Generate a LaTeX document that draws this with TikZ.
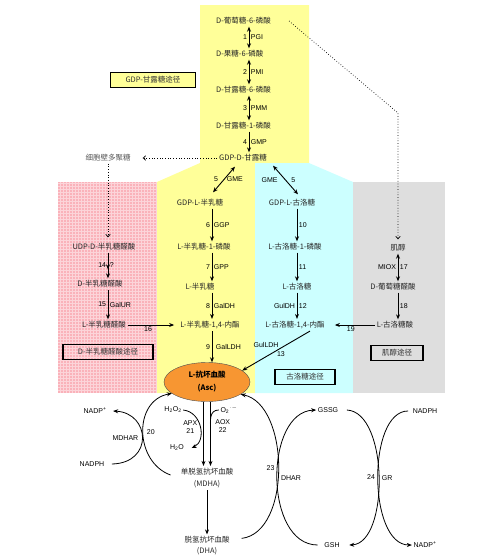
\documentclass[tikz,border=0pt]{standalone}
\usepackage{fontspec}
\setmainfont{Liberation Sans}
\newfontfamily\cjk{Noto Sans CJK SC}
\usetikzlibrary{arrows.meta,shapes.geometric}
\definecolor{manYellow}{RGB}{255,255,153}
\definecolor{gulCyan}{RGB}{204,255,255}
\definecolor{galPink}{RGB}{250,178,186}
\definecolor{inoGray}{RGB}{222,222,222}
\definecolor{ascOrange}{RGB}{247,150,50}

\begin{document}
\begin{tikzpicture}[x=1pt, y=-1pt,
    met/.style={font=\cjk\fontsize{7.5}{9}\selectfont, text=black!85, inner sep=2pt, align=center},
    lbl/.style={font=\fontsize{7}{8.5}\selectfont, inner sep=1.5pt, align=center},
    route/.style={rectangle, draw, line width=1.2pt, font=\cjk\fontsize{7.5}{9}\selectfont,
                  text=black!80, minimum height=15pt, inner sep=0pt},
    arr/.style={-{Stealth[length=5pt,width=4pt]}, line width=0.9pt},
    darr/.style={{Stealth[length=5pt,width=4pt]}-{Stealth[length=5pt,width=4pt]}, line width=0.9pt},
    marr/.style={-{Stealth[length=5pt,width=4pt,sep=4pt]Stealth[length=5pt,width=4pt]}, line width=0.9pt},
    dotarr/.style={-{Straight Barb[length=2.5pt,width=4.5pt]}, dotted, line width=0.7pt},
    cyc/.style={-{Stealth[length=5pt,width=4pt]}, line width=0.8pt}
  ]
  \useasboundingbox (0,0) rectangle (500,560);

  % coloured pathway areas
  \fill[manYellow] (200,5) -- (309,5) -- (309,163) -- (255,163) -- (255,393)
    -- (157,393) -- (157,182) -- (200,163) -- cycle;
  \fill[gulCyan] (255,163) -- (309,163) -- (353,182) -- (353,393) -- (255,393) -- cycle;
  \fill[galPink] (58,182) rectangle (157,393);
  \draw[white, opacity=0.45, line width=0.6pt, step=3pt] (58,393) grid (157,182);
  \fill[inoGray] (353,182) rectangle (445,393);

  % GDP-mannose pathway
  \coordinate (axM) at (249,0);
  \node[met, anchor=west] (g6p)    at (214,21)  {D-葡萄糖-6-磷酸};
  \node[met, anchor=west] (f6p)    at (214,54)  {D-果糖-6-磷酸};
  \node[met, anchor=west] (m6p)    at (214,90)  {D-甘露糖-6-磷酸};
  \node[met, anchor=west] (m1p)    at (214,126) {D-甘露糖-1-磷酸};
  \node[met, anchor=west] (gdpman) at (217,158) {GDP-D-甘露糖};
  \node[route, fill=manYellow, minimum width=85pt] (manroute) at (153,80) {GDP-甘露糖途径};
  \node[met, text=black!65] (wallpoly) at (108,158) {细胞壁多聚糖};

  % L-galactose pathway
  \coordinate (axG) at (212,0);
  \node[met] (gdpgal) at (200,203) {GDP-L-半乳糖};
  \node[met] (gal1p)  at (204,247) {L-半乳糖-1-磷酸};
  \node[met] (lgal)   at (200,287) {L-半乳糖};
  \node[met] (galL)   at (210,325) {L-半乳糖-1,4-内酯};

  % D-galacturonate pathway
  \coordinate (axU) at (108,0);
  \node[met] (udpgalur) at (104,247) {UDP-D-半乳糖醛酸};
  \node[met] (dgalur)   at (100,284) {D-半乳糖醛酸};
  \node[met] (lgalur)   at (104,325) {L-半乳糖醛酸};
  \node[route, minimum width=90pt] (galroute) at (108,352) {D-半乳糖醛酸途径};

  % L-gulose pathway
  \coordinate (axL) at (297,0);
  \node[met] (gdpgul) at (292,203) {GDP-L-古洛糖};
  \node[met] (gul1p)  at (295,247) {L-古洛糖-1-磷酸};
  \node[met] (lgul)   at (297,287) {L-古洛糖};
  \node[met] (gulL)   at (295,325) {L-古洛糖-1,4-内酯};
  \node[route, fill=gulCyan, minimum width=60pt] (gulroute) at (305,377) {古洛糖途径};

  % myo-inositol pathway
  \coordinate (axI) at (398,0);
  \coordinate (bendI) at (398,113);
  \node[met] (inos)   at (398,248) {肌醇};
  \node[met] (dglcur) at (393,287) {D-葡萄糖醛酸};
  \node[met] (lgulon) at (395,325) {L-古洛糖酸};
  \node[route, fill=inoGray, minimum width=52pt] (inoroute) at (397,353) {肌醇途径};

  % ascorbate and its recycling
  \node[ellipse, draw=black!70, fill=ascOrange, minimum width=86pt, minimum height=39pt,
        font=\cjk\bfseries\fontsize{7.5}{9}\selectfont, align=center, inner sep=0pt]
        (asc) at (207,382) {L-抗坏血酸\\[4pt](Asc)};
  \node[lbl] (h2o2)   at (173,410) {H\textsubscript{2}O\textsubscript{2}};
  \node[lbl] (o2)     at (229,410) {O\textsubscript{2}\textsuperscript{$\cdot-$}};
  \node[lbl] (h2o)    at (177,448) {H\textsubscript{2}O};
  \node[met] (mdha)   at (207,478) {单脱氢抗坏血酸\\[3pt](MDHA)};
  \node[met] (dha)    at (207,546) {脱氢抗坏血酸\\[2pt](DHA)};
  \node[lbl] (nadpL)  at (95,411)  {NADP\textsuperscript{+}};
  \node[lbl] (nadphL) at (92,464)  {NADPH};
  \node[lbl] (gssg)   at (328,410) {GSSG};
  \node[lbl] (gsh)    at (332,545) {GSH};
  \node[lbl] (nadphR) at (425,411) {NADPH};
  \node[lbl] (nadpR)  at (425,545) {NADP\textsuperscript{+}};

  % mannose steps
  \draw[darr] (g6p.south -| axM) -- node[lbl,left]{1} node[lbl,right]{PGI} (f6p.north -| axM);
  \draw[darr] (f6p.south -| axM) -- node[lbl,left]{2} node[lbl,right]{PMI} (m6p.north -| axM);
  \draw[darr] (m6p.south -| axM) -- node[lbl,left]{3} node[lbl,right]{PMM} (m1p.north -| axM);
  \draw[arr]  (m1p.south -| axM) -- node[lbl,left]{4} node[lbl,right]{GMP} (gdpman.north -| axM);
  \draw[dotarr, shorten >=10pt] (gdpman.west) -- (wallpoly.east);
  \draw[dotarr, shorten >=4pt] (wallpoly.south) -- (udpgalur.north -| wallpoly.south);
  \draw[dotarr, shorten >=3pt] ([xshift=16pt]g6p.east) -- (bendI) -- (inos.north);

  % galactose steps
  \draw[darr] ([xshift=18pt,yshift=-3pt]gdpman.south west) -- node[lbl,left=4pt]{5} node[lbl,right=1pt]{GME} ([xshift=13pt,yshift=5pt]gdpgal.north);
  \draw[arr] (gdpgal.south -| axG) -- node[lbl,left]{6} node[lbl,right]{GGP} (gal1p.north -| axG);
  \draw[arr] (gal1p.south -| axG) -- node[lbl,left]{7} node[lbl,right]{GPP} (lgal.north -| axG);
  \draw[arr] (lgal.south -| axG) -- node[lbl,left]{8} node[lbl,right]{GalDH} (galL.north -| axG);
  \draw[arr] (galL.south -| axG) -- node[lbl,left]{9} node[lbl,right=2pt]{GalLDH} (asc.north -| axG);

  % galacturonate steps
  \draw[marr] (udpgalur.south -| axU) -- node[lbl,left]{14} node[lbl,right]{?} (dgalur.north -| axU);
  \draw[arr] (dgalur.south -| axU) -- node[lbl,left]{15} node[lbl,right]{GalUR} (lgalur.north -| axU);
  \draw[arr, shorten >=4pt] (lgalur.east) -- node[lbl,pos=0.4,below]{16} (galL.west);

  % gulose steps
  \draw[darr] ([xshift=56pt,yshift=-2pt]gdpman.south west) -- node[lbl,left=6pt]{GME} node[lbl,right=4pt]{5} ([xshift=6pt,yshift=3pt]gdpgul.north);
  \draw[arr] (gdpgul.south -| axL) -- node[lbl,right]{10} (gul1p.north -| axL);
  \draw[arr] (gul1p.south -| axL) -- node[lbl,right]{11} (lgul.north -| axL);
  \draw[arr] (lgul.south -| axL) -- node[lbl,left]{GulDH} node[lbl,right]{12} (gulL.north -| axL);
  \draw[arr] ([xshift=15pt]gulL.south) -- node[lbl,pos=0.45,above left=-1pt]{GulLDH} node[lbl,pos=0.5,below right=-1pt]{13} (asc.18);

  % inositol steps
  \draw[darr] (inos.south -| axI) -- node[lbl,left]{MIOX} node[lbl,right]{17} (dglcur.north -| axI);
  \draw[arr] (dglcur.south -| axI) -- node[lbl,right]{18} (lgulon.north -| axI);
  \draw[arr, shorten >=8pt] (lgulon.west) -- node[lbl,below]{19} (gulL.east);

  % oxidation of ascorbate
  \draw[arr] ([xshift=-3.5pt]asc.south) -- ([xshift=-3.5pt]mdha.north);
  \draw[arr] ([xshift=3.5pt]asc.south) -- coordinate[pos=0.44] (aoxjoin) ([xshift=3.5pt]mdha.north);
  \draw[arr] (mdha.south) -- (dha.north);
  \draw[cyc] (h2o2.east) .. controls +(19,2) and +(15,-7) .. node[lbl,pos=0.5,left=1pt]{APX\\21} ([xshift=6pt]h2o.east);
  \draw[line width=0.8pt] (o2.west) .. controls +(-10,0) and +(0,-9) .. node[lbl,pos=0.85,right=3pt]{AOX\\22} (aoxjoin);

  % recycling loops
  \draw[cyc] ([xshift=-8pt,yshift=3pt]mdha.west) .. controls +(-36,-13) and +(-39,7) .. node[lbl,pos=0.5,right=2pt]{20} (asc.198);
  \draw[cyc] ([xshift=6pt]nadphL.east) .. controls +(42,-1) and +(37,2) .. node[lbl,pos=0.5,left=2pt]{MDHAR} ([xshift=5pt]nadpL.east);
  \draw[cyc] ([xshift=10pt,yshift=-4pt]dha.north east) .. controls +(50,-6) and +(49,10) .. node[lbl,pos=0.5,left=2pt]{23} (asc.-20);
  \draw[cyc] ([xshift=-5pt]gsh.west) .. controls +(-54,0) and +(-52,2) .. node[lbl,pos=0.5,right=2pt]{DHAR} (gssg.west);
  \draw[cyc] ([xshift=7pt]gssg.east) .. controls +(42,2) and +(40,-2) .. node[lbl,pos=0.5,left=2pt]{24} ([xshift=8pt]gsh.east);
  \draw[cyc] ([xshift=-3pt]nadphR.west) .. controls +(-41,0) and +(-44,0) .. node[lbl,pos=0.5,right=2pt]{GR} (nadpR.west);
\end{tikzpicture}
\end{document}
